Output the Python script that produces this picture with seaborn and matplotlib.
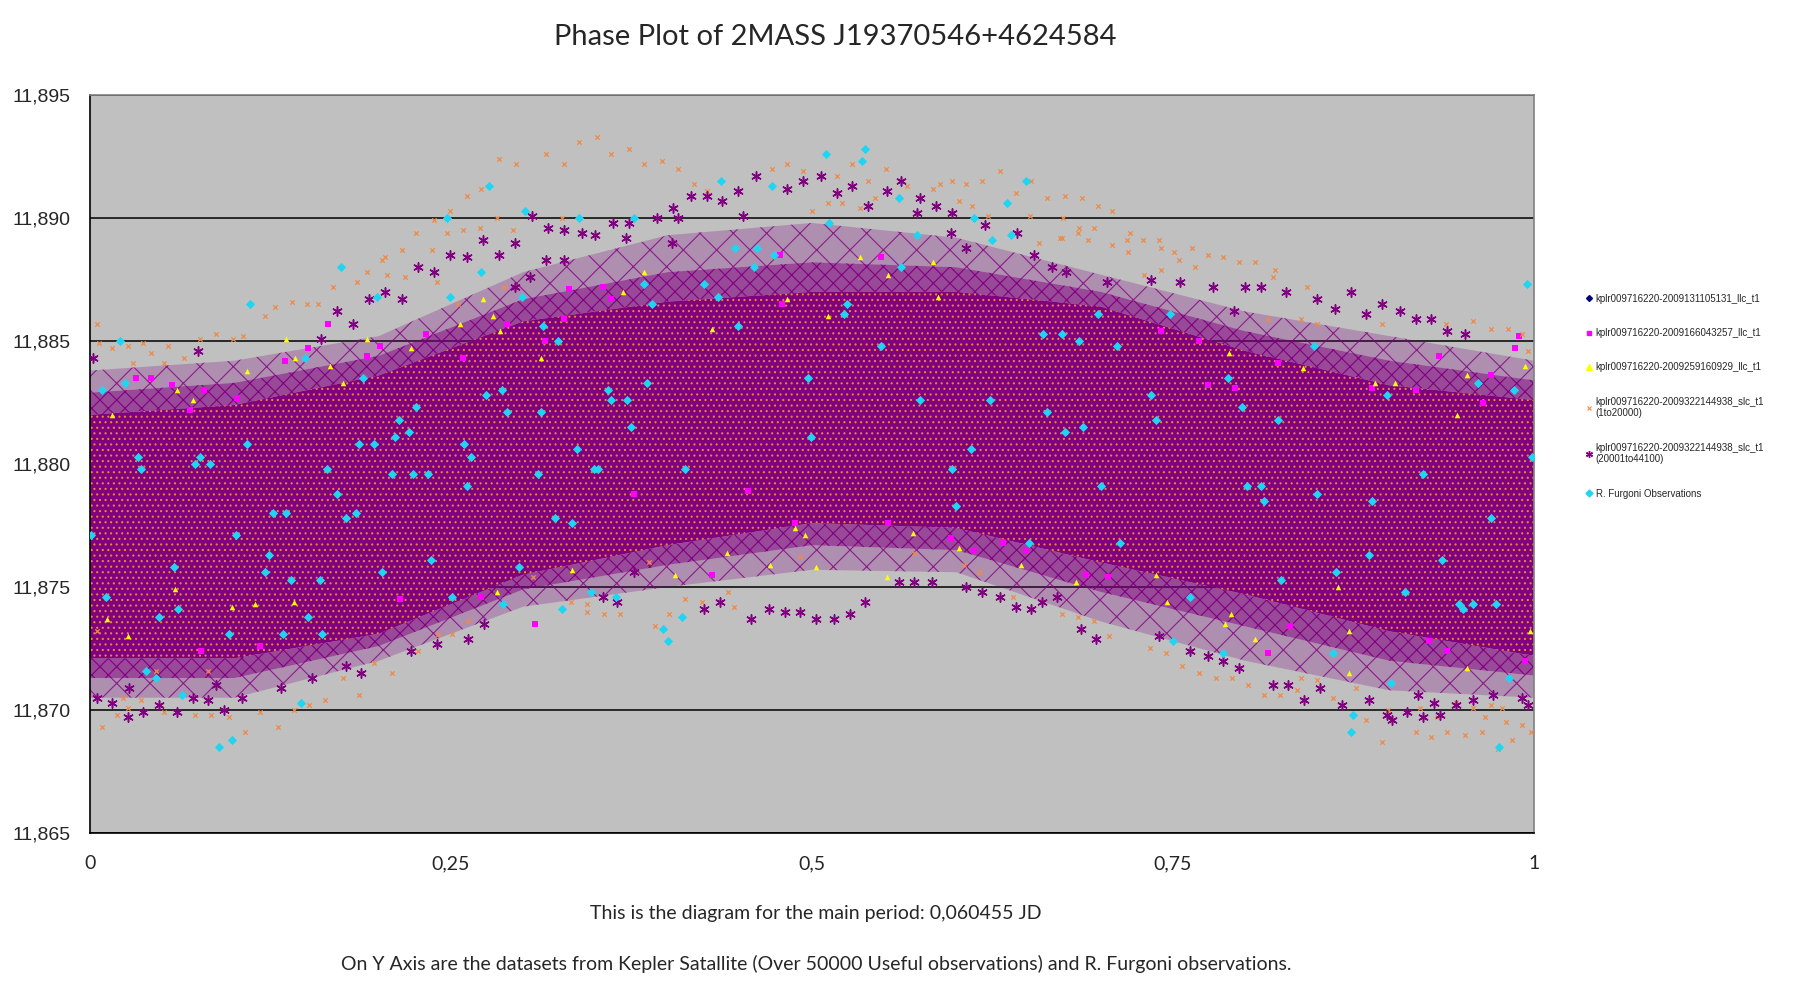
import matplotlib
matplotlib.use("Agg")
import matplotlib.pyplot as plt
import seaborn as sns
import pandas as pd
from matplotlib.lines import Line2D

# envelope of the dense Kepler cloud
phase_grid = [0.0, 0.1, 0.2, 0.3, 0.4, 0.5, 0.6, 0.7, 0.8, 0.9, 1.0]
core_hi = [11.8820, 11.8824, 11.8836, 11.8858, 11.8866, 11.8870, 11.8870, 11.8864, 11.8846, 11.8832, 11.8826]
core_lo = [11.8721, 11.8721, 11.8731, 11.8755, 11.8767, 11.8776, 11.8774, 11.8760, 11.8747, 11.8732, 11.8722]
mid_hi = [11.8829, 11.8833, 11.8844, 11.8867, 11.8878, 11.8882, 11.8880, 11.8870, 11.8854, 11.8842, 11.8834]
mid_lo = [11.8713, 11.8713, 11.8726, 11.8749, 11.8759, 11.8767, 11.8765, 11.8748, 11.8734, 11.8720, 11.8714]
fringe_hi = [11.8838, 11.8842, 11.8852, 11.8878, 11.8893, 11.8898, 11.8892, 11.8877, 11.8862, 11.8852, 11.8842]
fringe_lo = [11.8705, 11.8705, 11.8720, 11.8742, 11.8750, 11.8757, 11.8756, 11.8736, 11.8720, 11.8708, 11.8705]

# R. Furgoni observations
furgoni_phase = [0.276, 0.301, 0.339, 0.247, 0.271, 0.249, 0.299, 0.174, 0.111, 0.199, 0.021, 0.008, 0.024,
                 0.149, 0.189, 0.314, 0.324, 0.285, 0.274, 0.226, 0.214, 0.221, 0.211, 0.289, 0.312, 0.109,
                 0.186, 0.197, 0.259, 0.264, 0.337, 0.033, 0.076, 0.073, 0.083, 0.035, 0.164, 0.209, 0.224,
                 0.234, 0.310, 0.171, 0.261, 0.127, 0.136, 0.184, 0.177, 0.322, 0.334, 0.101, 0.001, 0.058,
                 0.121, 0.124, 0.139, 0.159, 0.202, 0.236, 0.297, 0.011, 0.048, 0.061, 0.096, 0.134, 0.151,
                 0.161, 0.039, 0.046, 0.064, 0.146, 0.089, 0.098, 0.251, 0.286, 0.327,
                 0.510, 0.537, 0.535, 0.437, 0.472, 0.560, 0.648, 0.635, 0.638, 0.625, 0.612, 0.573, 0.512,
                 0.377, 0.447, 0.462, 0.474, 0.460, 0.562, 0.384, 0.425, 0.435, 0.389, 0.524, 0.522, 0.449,
                 0.548, 0.660, 0.673, 0.685, 0.497, 0.359, 0.386, 0.361, 0.372, 0.375, 0.575, 0.623, 0.663,
                 0.675, 0.499, 0.610, 0.349, 0.352, 0.412, 0.597, 0.600, 0.650, 0.347, 0.364, 0.410, 0.397,
                 0.400,
                 0.995, 0.698, 0.748, 0.711, 0.848, 0.788, 0.961, 0.986, 0.898, 0.735, 0.798, 0.738, 0.823,
                 0.688, 0.999, 0.923, 0.700, 0.801, 0.811, 0.813, 0.850, 0.888, 0.970, 0.713, 0.886, 0.863,
                 0.825, 0.936, 0.911, 0.948, 0.951, 0.958, 0.974, 0.762, 0.750, 0.785, 0.861, 0.901, 0.983,
                 0.875, 0.873, 0.976]
furgoni_mag = [11.8913, 11.8903, 11.8900, 11.8900, 11.8878, 11.8868, 11.8868, 11.8880, 11.8865, 11.8868, 11.8850,
               11.8830, 11.8833, 11.8843, 11.8835, 11.8856, 11.8850, 11.8830, 11.8828, 11.8823, 11.8818, 11.8813,
               11.8811, 11.8821, 11.8821, 11.8808, 11.8808, 11.8808, 11.8808, 11.8803, 11.8806, 11.8803, 11.8803,
               11.8800, 11.8800, 11.8798, 11.8798, 11.8796, 11.8796, 11.8796, 11.8796, 11.8788, 11.8791, 11.8780,
               11.8780, 11.8780, 11.8778, 11.8778, 11.8776, 11.8771, 11.8771, 11.8758, 11.8756, 11.8763, 11.8753,
               11.8753, 11.8756, 11.8761, 11.8758, 11.8746, 11.8738, 11.8741, 11.8731, 11.8731, 11.8738, 11.8731,
               11.8716, 11.8713, 11.8706, 11.8703, 11.8685, 11.8688, 11.8746, 11.8743, 11.8741,
               11.8926, 11.8928, 11.8923, 11.8915, 11.8913, 11.8908, 11.8915, 11.8906, 11.8893, 11.8891, 11.8900,
               11.8893, 11.8898, 11.8900, 11.8888, 11.8888, 11.8885, 11.8880, 11.8880, 11.8873, 11.8873, 11.8868,
               11.8865, 11.8865, 11.8861, 11.8856, 11.8848, 11.8853, 11.8853, 11.8850, 11.8835, 11.8830, 11.8833,
               11.8826, 11.8826, 11.8815, 11.8826, 11.8826, 11.8821, 11.8813, 11.8811, 11.8806, 11.8798, 11.8798,
               11.8798, 11.8798, 11.8783, 11.8768, 11.8748, 11.8746, 11.8738, 11.8733, 11.8728,
               11.8873, 11.8861, 11.8861, 11.8848, 11.8848, 11.8835, 11.8833, 11.8830, 11.8828, 11.8828, 11.8823,
               11.8818, 11.8818, 11.8815, 11.8803, 11.8796, 11.8791, 11.8791, 11.8791, 11.8785, 11.8788, 11.8785,
               11.8778, 11.8768, 11.8763, 11.8756, 11.8753, 11.8761, 11.8748, 11.8743, 11.8741, 11.8743, 11.8743,
               11.8746, 11.8728, 11.8723, 11.8723, 11.8711, 11.8713, 11.8698, 11.8691, 11.8685]

# kplr...166043257_llc (magenta squares visible outside the core)
llc166_phase = [0.165, 0.032, 0.042, 0.233, 0.289, 0.328, 0.332, 0.057, 0.079, 0.151, 0.192, 0.201, 0.315,
                0.258, 0.069, 0.102, 0.135, 0.077, 0.118, 0.271, 0.308, 0.215, 0.478, 0.548, 0.355, 0.361,
                0.479, 0.488, 0.596, 0.632, 0.648, 0.612, 0.431, 0.377, 0.456, 0.553, 0.987, 0.934, 0.823,
                0.970, 0.918, 0.965, 0.888, 0.768, 0.742, 0.774, 0.793, 0.690, 0.705, 0.816, 0.927, 0.994,
                0.831, 0.940, 0.990]
llc166_mag = [11.8857, 11.8835, 11.8835, 11.8853, 11.8857, 11.8859, 11.8871, 11.8832, 11.8830, 11.8847, 11.8844,
              11.8848, 11.8850, 11.8843, 11.8822, 11.8827, 11.8842, 11.8724, 11.8726, 11.8746, 11.8735, 11.8745,
              11.8885, 11.8884, 11.8872, 11.8867, 11.8865, 11.8776, 11.8770, 11.8768, 11.8765, 11.8765, 11.8755,
              11.8788, 11.8789, 11.8776, 11.8847, 11.8844, 11.8841, 11.8836, 11.8830, 11.8825, 11.8831, 11.8850,
              11.8854, 11.8832, 11.8831, 11.8755, 11.8754, 11.8723, 11.8728, 11.8720, 11.8734, 11.8724, 11.8852]

# kplr...259160929_llc (yellow triangles)
llc259_phase = [0.136, 0.192, 0.109, 0.166, 0.071, 0.060, 0.279, 0.272, 0.256, 0.312, 0.284, 0.015, 0.142,
                0.175, 0.222, 0.098, 0.141, 0.114, 0.059, 0.282, 0.334, 0.012, 0.026, 0.384, 0.369, 0.431,
                0.483, 0.511, 0.553, 0.584, 0.587, 0.533, 0.405, 0.503, 0.552, 0.471, 0.495, 0.488, 0.570,
                0.602, 0.645, 0.683, 0.441, 0.840, 0.890, 0.904, 0.954, 0.994, 0.947, 0.789, 0.738, 0.790,
                0.786, 0.807, 0.872, 0.872, 0.954, 0.997, 0.864, 0.746]
llc259_mag = [11.8851, 11.8851, 11.8838, 11.8840, 11.8826, 11.8830, 11.8860, 11.8867, 11.8857, 11.8843, 11.8854,
              11.8820, 11.8843, 11.8833, 11.8847, 11.8742, 11.8744, 11.8743, 11.8749, 11.8748, 11.8757, 11.8737,
              11.8730, 11.8878, 11.8870, 11.8855, 11.8867, 11.8860, 11.8877, 11.8882, 11.8868, 11.8884, 11.8755,
              11.8758, 11.8754, 11.8759, 11.8771, 11.8774, 11.8772, 11.8766, 11.8759, 11.8752, 11.8764, 11.8839,
              11.8833, 11.8833, 11.8836, 11.8840, 11.8820, 11.8845, 11.8755, 11.8739, 11.8735, 11.8729, 11.8715,
              11.8732, 11.8717, 11.8732, 11.8750, 11.8744]

# kplr...322144938_slc 1to20000 (small orange x, outer points)
slc1_phase = [0.261, 0.271, 0.283, 0.249, 0.238, 0.226, 0.216, 0.204, 0.192, 0.185, 0.168, 0.247, 0.258,
              0.270, 0.237, 0.218, 0.206, 0.282, 0.295, 0.328, 0.316, 0.293, 0.327, 0.202, 0.128, 0.140,
              0.150, 0.158, 0.121, 0.087, 0.106, 0.099, 0.076, 0.005, 0.006, 0.015, 0.026, 0.037, 0.054,
              0.042, 0.030, 0.065, 0.051, 0.240, 0.255, 0.287,
              0.008, 0.019, 0.026, 0.073, 0.084, 0.096, 0.107, 0.118, 0.130, 0.141, 0.152, 0.163, 0.186,
              0.175, 0.209, 0.197, 0.227, 0.241, 0.262, 0.344, 0.333, 0.307, 0.005, 0.023, 0.035, 0.046,
              0.082, 0.051, 0.251,
              0.339, 0.351, 0.361, 0.373, 0.384, 0.396, 0.407, 0.418, 0.427, 0.472, 0.483, 0.494, 0.517,
              0.528, 0.539, 0.551, 0.566, 0.589, 0.597, 0.607, 0.618, 0.630, 0.641, 0.652, 0.663, 0.675,
              0.672, 0.657, 0.651, 0.622, 0.611, 0.602, 0.584, 0.544, 0.533, 0.521, 0.511, 0.500,
              0.687, 0.698, 0.708, 0.674, 0.685, 0.695, 0.684, 0.673, 0.691, 0.720, 0.718, 0.729, 0.740,
              0.708, 0.742, 0.719, 0.751, 0.763, 0.774, 0.785, 0.754, 0.796, 0.807, 0.821, 0.742, 0.765,
              0.819, 0.730, 0.843, 0.958, 0.970, 0.982, 0.992, 0.939, 0.895, 0.850, 0.839, 0.816, 0.996,
              0.998, 0.992, 0.985, 0.981, 0.975, 0.966, 0.964, 0.952, 0.940, 0.929, 0.918, 0.895, 0.884,
              0.933, 0.978, 0.970, 0.958, 0.946, 0.921, 0.899, 0.813, 0.824, 0.802, 0.791, 0.780, 0.768,
              0.756, 0.745, 0.734, 0.706, 0.695, 0.684, 0.673, 0.839, 0.850, 0.861, 0.836, 0.877,
              0.344, 0.356, 0.367, 0.391, 0.401, 0.412, 0.424, 0.446, 0.442, 0.387, 0.639, 0.616, 0.571,
              0.605, 0.492]
slc1_mag = [11.8909, 11.8912, 11.8924, 11.8903, 11.8899, 11.8894, 11.8887, 11.8884, 11.8878, 11.8874, 11.8872,
            11.8894, 11.8895, 11.8896, 11.8887, 11.8876, 11.8877, 11.8900, 11.8922, 11.8922, 11.8926, 11.8895,
            11.8900, 11.8883, 11.8864, 11.8866, 11.8865, 11.8865, 11.8860, 11.8853, 11.8852, 11.8851, 11.8851,
            11.8857, 11.8849, 11.8847, 11.8848, 11.8849, 11.8848, 11.8845, 11.8841, 11.8843, 11.8841, 11.8874,
            11.8865, 11.8872,
            11.8693, 11.8698, 11.8701, 11.8698, 11.8698, 11.8697, 11.8691, 11.8699, 11.8693, 11.8700, 11.8702,
            11.8704, 11.8706, 11.8713, 11.8715, 11.8719, 11.8724, 11.8731, 11.8736, 11.8743, 11.8744, 11.8754,
            11.8732, 11.8705, 11.8704, 11.8716, 11.8716, 11.8699, 11.8731,
            11.8931, 11.8933, 11.8926, 11.8928, 11.8922, 11.8923, 11.8920, 11.8914, 11.8911, 11.8920, 11.8922,
            11.8919, 11.8917, 11.8922, 11.8915, 11.8920, 11.8913, 11.8914, 11.8915, 11.8914, 11.8915, 11.8919,
            11.8910, 11.8915, 11.8908, 11.8909, 11.8892, 11.8890, 11.8901, 11.8901, 11.8905, 11.8907, 11.8912,
            11.8908, 11.8904, 11.8906, 11.8906, 11.8903,
            11.8908, 11.8905, 11.8903, 11.8900, 11.8896, 11.8896, 11.8894, 11.8892, 11.8891, 11.8894, 11.8891,
            11.8891, 11.8891, 11.8889, 11.8888, 11.8886, 11.8886, 11.8888, 11.8885, 11.8884, 11.8883, 11.8882,
            11.8882, 11.8879, 11.8879, 11.8880, 11.8876, 11.8877, 11.8872, 11.8858, 11.8855, 11.8855, 11.8853,
            11.8857, 11.8857, 11.8857, 11.8859, 11.8859, 11.8846,
            11.8691, 11.8694, 11.8688, 11.8695, 11.8684, 11.8697, 11.8691, 11.8690, 11.8691, 11.8689, 11.8691,
            11.8687, 11.8696, 11.8697, 11.8701, 11.8702, 11.8701, 11.8703, 11.8701, 11.8700, 11.8706, 11.8706,
            11.8710, 11.8713, 11.8713, 11.8715, 11.8718, 11.8723, 11.8725, 11.8730, 11.8736, 11.8738, 11.8739,
            11.8713, 11.8712, 11.8705, 11.8708, 11.8709,
            11.8740, 11.8739, 11.8739, 11.8734, 11.8739, 11.8745, 11.8744, 11.8742, 11.8748, 11.8760, 11.8746,
            11.8756, 11.8764, 11.8759, 11.8762]

# kplr...322144938_slc 20001to44100 (purple asterisks outside the dense band)
slc2_phase = [0.306, 0.272, 0.294, 0.317, 0.328, 0.249, 0.261, 0.283, 0.227, 0.238, 0.316, 0.328, 0.341,
              0.305, 0.204, 0.193, 0.216, 0.171, 0.294, 0.182, 0.160, 0.075, 0.002,
              0.461, 0.506, 0.562, 0.494, 0.449, 0.483, 0.528, 0.416, 0.427, 0.517, 0.552, 0.575, 0.404,
              0.438, 0.539, 0.586, 0.597, 0.393, 0.407, 0.452, 0.362, 0.373, 0.573, 0.620, 0.642, 0.596,
              0.607, 0.654, 0.350, 0.371, 0.403, 0.666,
              0.676, 0.735, 0.755, 0.704, 0.778, 0.800, 0.811, 0.828, 0.873, 0.895, 0.850, 0.907, 0.918,
              0.929, 0.884, 0.940, 0.952, 0.862, 0.792,
              0.686, 0.697, 0.740, 0.762, 0.774, 0.785, 0.796, 0.819, 0.830, 0.841, 0.852, 0.867, 0.886,
              0.898, 0.902, 0.912, 0.923, 0.935, 0.946, 0.958, 0.972, 0.992, 0.996, 0.920, 0.931,
              0.458, 0.470, 0.481, 0.492, 0.503, 0.515, 0.526, 0.537, 0.436, 0.425, 0.607, 0.618, 0.630,
              0.641, 0.652, 0.659, 0.670, 0.560, 0.571, 0.583, 0.377, 0.365, 0.355,
              0.026, 0.037, 0.015, 0.005, 0.048, 0.060, 0.071, 0.082, 0.093, 0.105, 0.087, 0.132, 0.154,
              0.177, 0.188, 0.240, 0.262, 0.273, 0.222, 0.027]
slc2_mag = [11.8901, 11.8891, 11.8890, 11.8896, 11.8895, 11.8885, 11.8884, 11.8885, 11.8880, 11.8878, 11.8883,
            11.8883, 11.8894, 11.8876, 11.8870, 11.8867, 11.8867, 11.8862, 11.8872, 11.8857, 11.8851, 11.8846,
            11.8843,
            11.8917, 11.8917, 11.8915, 11.8915, 11.8911, 11.8912, 11.8913, 11.8909, 11.8909, 11.8910, 11.8911,
            11.8908, 11.8904, 11.8907, 11.8905, 11.8905, 11.8902, 11.8900, 11.8900, 11.8901, 11.8898, 11.8898,
            11.8902, 11.8897, 11.8894, 11.8894, 11.8888, 11.8885, 11.8893, 11.8892, 11.8890, 11.8880,
            11.8878, 11.8875, 11.8874, 11.8874, 11.8872, 11.8872, 11.8872, 11.8870, 11.8870, 11.8865, 11.8867,
            11.8862, 11.8859, 11.8859, 11.8861, 11.8854, 11.8853, 11.8863, 11.8862,
            11.8733, 11.8729, 11.8730, 11.8724, 11.8722, 11.8720, 11.8717, 11.8710, 11.8710, 11.8704, 11.8709,
            11.8702, 11.8704, 11.8698, 11.8696, 11.8699, 11.8697, 11.8698, 11.8702, 11.8704, 11.8706, 11.8705,
            11.8702, 11.8706, 11.8703,
            11.8737, 11.8741, 11.8740, 11.8740, 11.8737, 11.8737, 11.8739, 11.8744, 11.8744, 11.8741, 11.8750,
            11.8748, 11.8746, 11.8742, 11.8741, 11.8744, 11.8746, 11.8752, 11.8752, 11.8752, 11.8756, 11.8744,
            11.8746,
            11.8697, 11.8699, 11.8703, 11.8705, 11.8702, 11.8699, 11.8705, 11.8704, 11.8700, 11.8705, 11.8710,
            11.8709, 11.8713, 11.8718, 11.8715, 11.8727, 11.8729, 11.8735, 11.8724, 11.8709]

series_labels = ["kplr009716220-2009131105131_llc_t1",
                 "kplr009716220-2009166043257_llc_t1",
                 "kplr009716220-2009259160929_llc_t1",
                 "kplr009716220-2009322144938_slc_t1\n(1to20000)",
                 "kplr009716220-2009322144938_slc_t1\n(20001to44100)",
                 "R. Furgoni Observations"]
x_ticks = [0, 0.25, 0.5, 0.75, 1]
x_tick_labels = ["0", "0,25", "0,5", "0,75", "1"]
y_ticks = [11.865, 11.870, 11.875, 11.880, 11.885, 11.890, 11.895]
y_tick_labels = ["11,865", "11,870", "11,875", "11,880", "11,885", "11,890", "11,895"]

sns.set_style("white")
plt.rcParams["font.family"] = ["Liberation Sans", "DejaVu Sans"]
plt.rcParams["hatch.linewidth"] = 0.8

PURPLE = "#800080"
ORANGE = "#f08a45"
CYAN = "#1fd6f2"
YELLOW = "#ffff00"
MAGENTA = "#ff00ff"
NAVY = "#000080"

fig = plt.figure(figsize=(18.11, 9.92), dpi=100)
ax = fig.add_axes([0.0497, 0.1603, 0.7973, 0.7439])
ax.set_facecolor("#c0c0c0")

# dense core of the Kepler light curve, a thick inner fringe and a sparse outer fringe
ax.fill_between(phase_grid, mid_hi, fringe_hi, facecolor=(0.5, 0, 0.5, 0.25),
                edgecolor=(0.5, 0, 0.5, 0.8), hatch="x", linewidth=0, zorder=1)
ax.fill_between(phase_grid, fringe_lo, mid_lo, facecolor=(0.5, 0, 0.5, 0.25),
                edgecolor=(0.5, 0, 0.5, 0.8), hatch="x", linewidth=0, zorder=1)
ax.fill_between(phase_grid, core_hi, mid_hi, facecolor=(0.5, 0, 0.5, 0.62),
                edgecolor=PURPLE, hatch="xx", linewidth=0, zorder=1)
ax.fill_between(phase_grid, mid_lo, core_lo, facecolor=(0.5, 0, 0.5, 0.62),
                edgecolor=PURPLE, hatch="xx", linewidth=0, zorder=1)
ax.fill_between(phase_grid, core_lo, core_hi, facecolor=PURPLE,
                edgecolor="#e6873a", hatch="...", linewidth=0, zorder=1.1)

df_166 = pd.DataFrame({"phase": llc166_phase, "mag": llc166_mag})
df_259 = pd.DataFrame({"phase": llc259_phase, "mag": llc259_mag})
df_s1 = pd.DataFrame({"phase": slc1_phase, "mag": slc1_mag})
df_s2 = pd.DataFrame({"phase": slc2_phase, "mag": slc2_mag})
df_f = pd.DataFrame({"phase": furgoni_phase, "mag": furgoni_mag})

sns.scatterplot(data=df_166, x="phase", y="mag", ax=ax, marker="s", color=MAGENTA,
                s=14, linewidth=0, zorder=3)
sns.scatterplot(data=df_259, x="phase", y="mag", ax=ax, marker="^", color=YELLOW,
                s=16, linewidth=0, zorder=3)
sns.scatterplot(data=df_s1, x="phase", y="mag", ax=ax, marker="x", color=ORANGE,
                s=10, linewidth=0.9, zorder=3)
sns.scatterplot(data=df_s2, x="phase", y="mag", ax=ax, marker=(6, 2, 0), color=PURPLE,
                s=45, linewidth=1.1, zorder=3)
sns.scatterplot(data=df_f, x="phase", y="mag", ax=ax, marker="D", color=CYAN,
                s=22, linewidth=0, zorder=4)

ax.set_xlim(0, 1)
ax.set_ylim(11.865, 11.895)
ax.set_xticks(x_ticks)
ax.set_xticklabels(x_tick_labels, fontsize=14, family=["Lato", "DejaVu Sans"])
ax.set_yticks(y_ticks)
ax.set_yticklabels(y_tick_labels, fontsize=14)
ax.set_xlabel("")
ax.set_ylabel("")
ax.tick_params(axis="both", direction="out", length=5, width=1, color="black")
ax.tick_params(axis="x", pad=11)
ax.tick_params(axis="y", pad=9)
ax.set_axisbelow(True)
ax.yaxis.grid(True, color="black", linewidth=1.1)
ax.xaxis.grid(False)
for side in ["left", "bottom"]:
    ax.spines[side].set_color("black")
    ax.spines[side].set_linewidth(1.2)
for side in ["top", "right"]:
    ax.spines[side].set_color("#808080")
    ax.spines[side].set_linewidth(1.2)
if ax.get_legend() is not None:
    ax.get_legend().remove()

handles = [
    Line2D([], [], linestyle="none", marker="D", color=NAVY, markersize=3),
    Line2D([], [], linestyle="none", marker="s", color=MAGENTA, markersize=3.5),
    Line2D([], [], linestyle="none", marker="^", color=YELLOW, markersize=4),
    Line2D([], [], linestyle="none", marker="x", color=ORANGE, markersize=3, markeredgewidth=0.8),
    Line2D([], [], linestyle="none", marker=(6, 2, 0), color=PURPLE, markersize=5, markeredgewidth=1),
    Line2D([], [], linestyle="none", marker="D", color=CYAN, markersize=3.5),
]
fig.legend(handles, series_labels, loc="upper left", bbox_to_anchor=(1582 / 1811, 1 - 290 / 992),
           frameon=False, fontsize=7, labelspacing=2.5, handlelength=0.6, handletextpad=0.4,
           borderaxespad=0)

fig.text(835 / 1811, 1 - 37 / 992, "Phase Plot of 2MASS J19370546+4624584", ha="center", va="center",
         fontsize=21, family=["Lato", "DejaVu Sans"])
fig.text(816 / 1811, 1 - 914 / 992, "This is the diagram for the main period: 0,060455 JD", ha="center",
         va="center", fontsize=14, family=["Lato", "DejaVu Sans"])
fig.text(816 / 1811, 1 - 964 / 992,
         "On Y Axis are the datasets from Kepler Satallite (Over 50000 Useful observations) and R. Furgoni observations.",
         ha="center", va="center", fontsize=14, family=["Lato", "DejaVu Sans"])

fig.savefig("out.png", dpi=100, facecolor="white")
